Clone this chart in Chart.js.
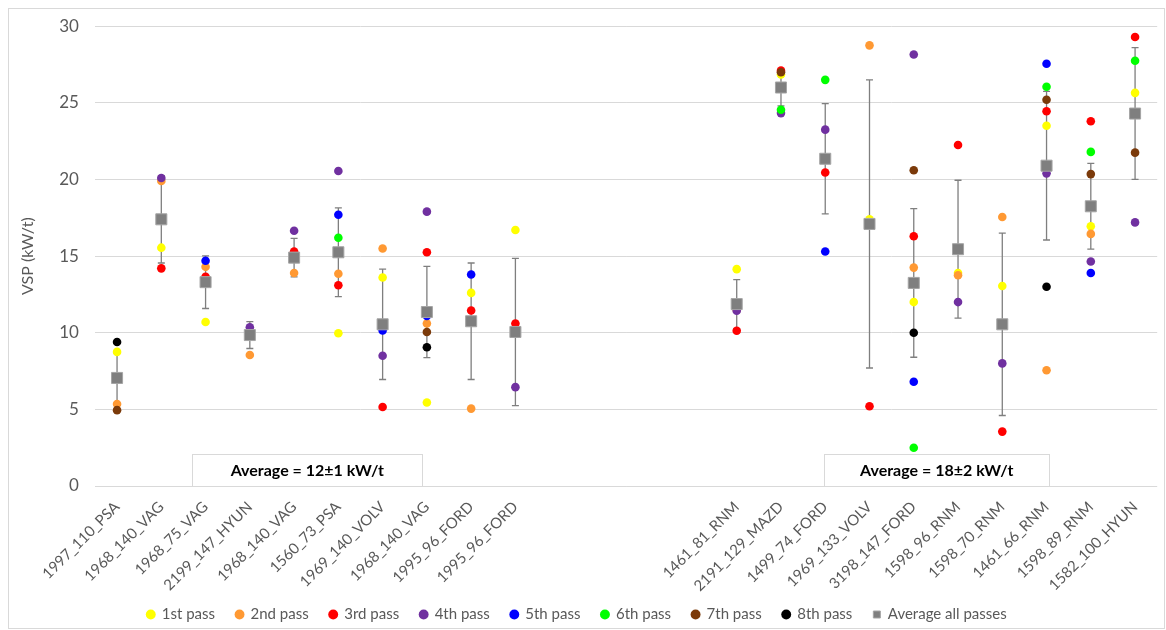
<!DOCTYPE html>
<html>
<head>
    <title>VSP per vehicle</title>
    <script src="https://cdn.jsdelivr.net/npm/chart.js"></script>
    <style>
        body {
            margin: 0;
            background-color: #fff;
        }
        #wrap {
            width: 1166px;
            height: 630px;
        }
    </style>
</head>
<body>
    <div id="wrap"><canvas id="myChart"></canvas></div>

    <script>
        // vehicles (4 empty slots make the gap between the two groups)
        const labels = ['1997_110_PSA', '1968_140_VAG', '1968_75_VAG', '2199_147_HYUN', '1968_140_VAG',
            '1560_73_PSA', '1969_140_VOLV', '1968_140_VAG', '1995_96_FORD', '1995_96_FORD',
            '', '', '', '',
            '1461_81_RNM', '2191_129_MAZD', '1499_74_FORD', '1969_133_VOLV', '3198_147_FORD',
            '1598_96_RNM', '1598_70_RNM', '1461_66_RNM', '1598_89_RNM', '1582_100_HYUN'];

        const pass1 = [8.75, 15.55, 10.7, null, null, 9.97, 13.6, 5.45, 12.6, 16.7,
            null, null, null, null,
            14.15, 26.85, null, 17.4, 12.0, 13.9, 13.05, 23.5, 16.95, 25.65];
        const pass2 = [5.35, 19.9, 14.3, 8.55, 13.9, 13.85, 15.5, 10.6, 5.05, null,
            null, null, null, null,
            11.5, null, null, 28.75, 14.25, 13.75, 17.55, 7.55, 16.45, null];
        const pass3 = [null, 14.2, 13.65, null, 15.3, 13.1, 5.15, 15.25, 11.45, 10.6,
            null, null, null, null,
            10.13, 27.1, 20.45, 5.2, 16.3, 22.25, 3.55, 24.45, 23.8, 29.3];
        const pass4 = [null, 20.1, null, 10.35, 16.65, 20.55, 8.5, 17.9, null, 6.45,
            null, null, null, null,
            11.43, 24.33, 23.25, null, 28.15, 12.0, 8.0, 20.4, 14.65, 17.2];
        const pass5 = [null, null, 14.7, null, null, 17.7, 10.15, 11.1, 13.8, null,
            null, null, null, null,
            null, null, 15.3, null, 6.8, null, null, 27.55, 13.9, null];
        const pass6 = [null, null, null, null, null, 16.2, null, null, null, null,
            null, null, null, null,
            null, 24.55, 26.5, null, 2.5, null, null, 26.05, 21.8, 27.75];
        const pass7 = [4.95, null, null, null, null, null, null, 10.05, null, null,
            null, null, null, null,
            null, 27.0, null, null, 20.6, null, null, 25.2, 20.35, 21.75];
        const pass8 = [9.4, null, null, null, null, null, null, 9.05, null, null,
            null, null, null, null,
            null, null, null, null, 10.0, null, null, 13.0, null, null];
        const average = [7.05, 17.4, 13.3, 9.85, 14.9, 15.25, 10.55, 11.35, 10.75, 10.05,
            null, null, null, null,
            11.87, 26.0, 21.35, 17.1, 13.25, 15.45, 10.55, 20.9, 18.25, 24.3];
        const errors = [1.65, 2.85, 1.72, 0.88, 1.25, 2.9, 3.6, 2.98, 3.8, 4.8,
            null, null, null, null,
            1.6, 1.2, 3.6, 9.4, 4.85, 4.5, 5.95, 4.85, 2.8, 4.3];

        const yTicks = [0, 5, 10, 15, 20, 25, 30];

        const passNames = ['1st pass', '2nd pass', '3rd pass', '4th pass', '5th pass', '6th pass', '7th pass', '8th pass'];
        const passColors = ['#ffff00', '#ff9933', '#ff0000', '#7030a0', '#0000ff', '#00ff00', '#7b3a0a', '#000000'];
        const passData = [pass1, pass2, pass3, pass4, pass5, pass6, pass7, pass8];

        // text boxes sitting on the x axis
        const notes = [
            { text: 'Average = 12\u00b11 kW/t', from: 1.7, to: 6.9 },
            { text: 'Average = 18\u00b12 kW/t', from: 15.98, to: 21.06 }
        ];

        const grey = '#595959';

        const datasets = passData.map((d, i) => ({
            label: passNames[i],
            data: d,
            showLine: false,
            pointStyle: 'circle',
            pointRadius: 4.3,
            pointBackgroundColor: passColors[i],
            pointBorderColor: passColors[i],
            pointBorderWidth: 0,
            backgroundColor: passColors[i],
            borderColor: passColors[i],
            order: 10 - i
        }));
        datasets.push({
            label: 'Average all passes',
            data: average,
            showLine: false,
            pointStyle: 'rect',
            pointRadius: 7.8,
            pointBackgroundColor: '#7f7f7f',
            pointBorderColor: '#a5a5a5',
            pointBorderWidth: 1,
            backgroundColor: '#7f7f7f',
            borderColor: '#7f7f7f',
            order: 1
        });

        const extras = {
            id: 'extras',
            afterLayout(chart) {
                // legend sits a bit left of centre in the original
                chart.legend.right -= 24;
                // let the long rotated names run below the axis box without clipping
                chart.scales.x.bottom += 16;
            },
            beforeDraw(chart) {
                const c = chart.ctx;
                c.save();
                c.strokeStyle = '#d9d9d9';
                c.lineWidth = 1;
                c.strokeRect(8.5, 8.5, 1156, 620);
                c.restore();
            },
            beforeDatasetsDraw(chart) {
                const c = chart.ctx;
                const x = chart.scales.x;
                const y = chart.scales.y;
                c.save();
                // note boxes
                notes.forEach(n => {
                    const x1 = x.getPixelForValue(n.from);
                    const x2 = x.getPixelForValue(n.to);
                    const top = y.getPixelForValue(0) - 32;
                    c.fillStyle = '#fff';
                    c.fillRect(x1, top, x2 - x1, 32);
                    c.strokeStyle = '#d9d9d9';
                    c.lineWidth = 1;
                    c.strokeRect(Math.round(x1) + 0.5, Math.round(top) + 0.5, Math.round(x2 - x1), 32);
                    c.fillStyle = '#000';
                    c.font = 'bold 16px Lato';
                    c.textAlign = 'center';
                    c.textBaseline = 'middle';
                    c.fillText(n.text, (x1 + x2) / 2, top + 17);
                });
                // error bars
                c.strokeStyle = '#7f7f7f';
                c.lineWidth = 1.3;
                average.forEach((v, i) => {
                    if (v === null) return;
                    const px = x.getPixelForValue(i);
                    const hi = y.getPixelForValue(v + errors[i]);
                    const lo = y.getPixelForValue(v - errors[i]);
                    c.beginPath();
                    c.moveTo(px, hi);
                    c.lineTo(px, lo);
                    c.moveTo(px - 3.5, hi);
                    c.lineTo(px + 3.5, hi);
                    c.moveTo(px - 3.5, lo);
                    c.lineTo(px + 3.5, lo);
                    c.stroke();
                });
                c.restore();
            }
        };

        const ctx = document.getElementById('myChart').getContext('2d');
        const myChart = new Chart(ctx, {
            type: 'line',
            data: {
                labels: labels,
                datasets: datasets
            },
            options: {
                responsive: true,
                maintainAspectRatio: false,
                animation: false,
                layout: {
                    padding: { left: 18, top: 16, right: 6, bottom: 0 }
                },
                plugins: {
                    tooltip: { enabled: false },
                    legend: {
                        position: 'bottom',
                        maxHeight: 44,
                        labels: {
                            usePointStyle: true,
                            boxWidth: 7,
                            boxHeight: 7,
                            padding: 21,
                            color: grey,
                            font: { family: 'Lato', size: 15 },
                            sort: (a, b) => a.datasetIndex - b.datasetIndex
                        }
                    }
                },
                scales: {
                    x: {
                        offset: true,
                        afterFit(scale) {
                            scale.height = 100;
                        },
                        grid: { display: false, drawTicks: false },
                        border: { display: false },
                        ticks: {
                            autoSkip: false,
                            minRotation: 45,
                            maxRotation: 45,
                            padding: 12,
                            color: grey,
                            font: { family: 'Lato', size: 15 }
                        }
                    },
                    y: {
                        min: 0,
                        max: 30,
                        afterBuildTicks(axis) {
                            axis.ticks = yTicks.map(v => ({ value: v }));
                        },
                        grid: { color: '#d9d9d9', drawTicks: false },
                        border: { display: false },
                        ticks: {
                            padding: 16,
                            color: grey,
                            font: { family: 'Lato', size: 17 }
                        },
                        title: {
                            display: true,
                            text: 'VSP (kW/t)',
                            color: grey,
                            font: { family: 'Lato', size: 16 },
                            padding: { top: 0, bottom: 6 }
                        }
                    }
                }
            },
            plugins: [extras]
        });
    </script>
</body>
</html>
